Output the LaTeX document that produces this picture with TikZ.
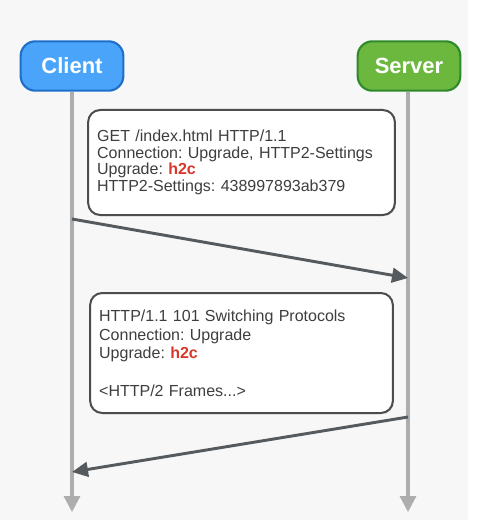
\documentclass[tikz,border=0pt]{standalone}
\usepackage{fontspec}
\setmainfont{Liberation Sans}
\usetikzlibrary{arrows.meta,shadows}
\definecolor{bgc}{HTML}{F7F7F7}
\definecolor{clientfill}{HTML}{4AA5FA}
\definecolor{clientdraw}{HTML}{1F6FC9}
\definecolor{serverfill}{HTML}{6CB83F}
\definecolor{serverdraw}{HTML}{2F8A2C}
\definecolor{lifec}{HTML}{ADADAD}
\definecolor{msgc}{HTML}{555A5E}
\definecolor{txtc}{HTML}{3E3E3E}
\definecolor{redc}{HTML}{D8382C}
\tikzset{
  actor/.style={rounded corners=11pt, line width=1.6pt, minimum width=77pt, minimum height=37pt,
    text=white, font=\fontsize{16.5}{18}\selectfont\bfseries, inner sep=0pt},
  lifeline/.style={draw=lifec, line width=2.4pt, -{Triangle[length=12pt,width=12pt]}},
  msgbox/.style={draw=black!70, fill=white, line width=1.5pt, rounded corners=9pt,
    drop shadow={opacity=0.25, shadow xshift=0.8pt, shadow yshift=-0.8pt},
    align=left, inner xsep=6.75pt, text=txtc, anchor=center},
  msg/.style={draw=msgc, line width=2.2pt, -{Triangle[length=12pt,width=11pt]}}
}
\newcommand{\hred}[1]{\textcolor{redc}{\textbf{#1}}}
\frenchspacing
\begin{document}
\begin{tikzpicture}[x=0.75pt,y=-0.75pt]
\useasboundingbox (0,0) rectangle (500,520);
\fill[white] (0,0) rectangle (500,520);
\fill[bgc] (0,0) rectangle (468,520);
\node[actor, fill=clientfill, draw=clientdraw] (client) at (72,66) {Client};
\node[actor, fill=serverfill, draw=serverdraw] (server) at (409,66) {Server};
\coordinate (cend) at (72,512);
\coordinate (send) at (408,512);
\draw[lifeline] (client.south) -- (cend);
\draw[lifeline] (server.south -| send) -- (send);
\node[msgbox, font=\fontsize{12}{12.5}\selectfont, minimum width=230pt, minimum height=78.75pt, text width=216.5pt] (req) at (241.5,162.5)
  {\frenchspacing GET /index.html HTTP/1.1\\
   Connection: Upgrade, HTTP2-Settings\\
   Upgrade: \hred{h2c}\\
   HTTP2-Settings: 438997893ab379};
\node[msgbox, font=\fontsize{12}{14}\selectfont, minimum width=227pt, minimum height=90pt, text width=213.5pt] (resp) at (241.5,353)
  {\frenchspacing HTTP/1.1 101 Switching Protocols\\
   Connection: Upgrade\\
   Upgrade: \hred{h2c}\\[14pt]
   <HTTP/2 Frames...>};
\coordinate (m1s) at (72,219);
\coordinate (m1e) at (408,278);
\coordinate (m2s) at (408,417);
\coordinate (m2e) at (72,472);
\draw[msg] (m1s) -- (m1e);
\draw[msg] (m2s) -- (m2e);
\end{tikzpicture}
\end{document}
